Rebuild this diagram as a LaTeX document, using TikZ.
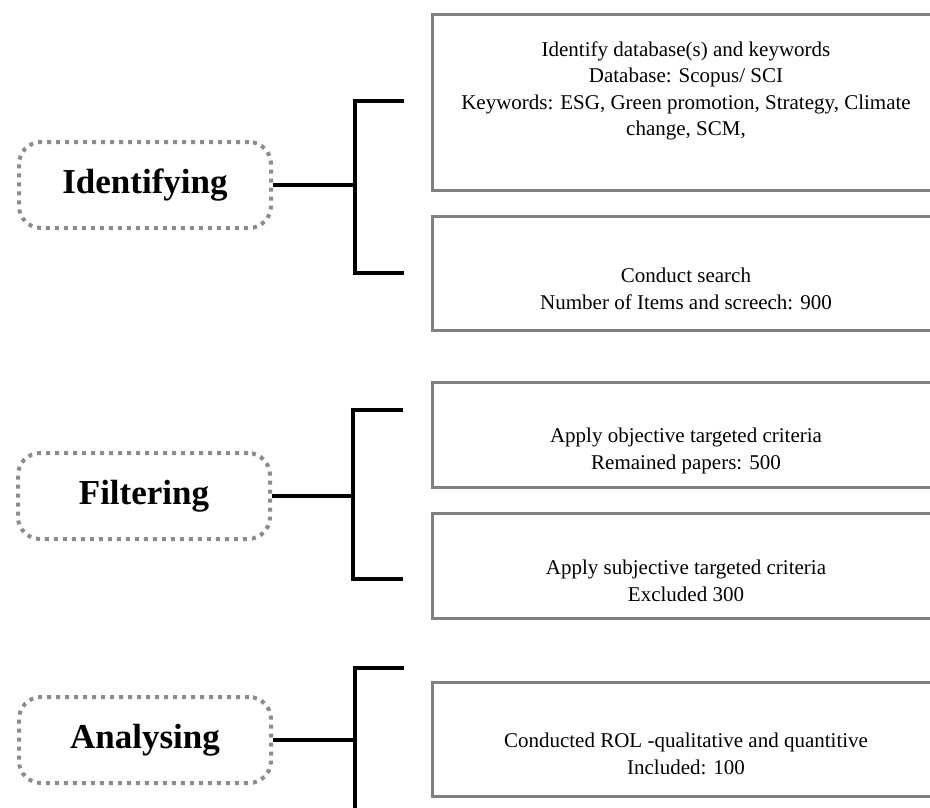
\documentclass[tikz,border=0pt]{standalone}
\usepackage{fontspec}
\setmainfont{Liberation Serif}
\usepackage{tikz}
\usetikzlibrary{positioning}

\tikzset{
  stage/.style={draw=gray!90, line width=4pt, dash pattern=on 4pt off 5pt,
    rounded corners=22pt, minimum width=252pt, minimum height=86pt,
    font=\fontsize{35}{40}\selectfont\bfseries},
  itembox/.style={draw=gray, line width=3pt, minimum width=508pt, inner sep=0pt},
  itemtext/.style={align=center, inner sep=0pt, font=\fontsize{21}{26.5}\selectfont},
  brace/.style={line width=4pt}
}

\begin{document}
\begin{tikzpicture}[x=1pt,y=-1pt]
            \useasboundingbox (0,0) rectangle (930,807);
            % stages
            \node[stage] (ident) at (145,185) {Identifying};
            \node[stage] (filt) at (144,496) {Filtering};
            \node[stage] (anal) at (145,740) {Analysing};
            % boxes
            \node[itembox, minimum height=176pt] (dbbox) at (686,102) {};
            \node[itemtext] (dbtext) at (686,91) {Identify database(s) and keywords\\Database: Scopus/ SCI\\Keywords: ESG, Green promotion, Strategy, Climate\\change, SCM,};
            \node[itembox, minimum height=114pt] (searchbox) at (686,273) {};
            \node[itemtext] (searchtext) at (686,289) {Conduct search\\Number of Items and screech: 900};
            \node[itembox, minimum height=105pt] (objbox) at (686,434.5) {};
            \node[itemtext] (objtext) at (686,451) {Apply objective targeted criteria\\Remained papers: 500};
            \node[itembox, minimum height=105pt] (subjbox) at (686,565.5) {};
            \node[itemtext] (subjtext) at (686,581) {Apply subjective targeted criteria\\Excluded 300};
            \node[itembox, minimum height=114pt] (rolbox) at (686,739) {};
            \node[itemtext] (roltext) at (686,754) {Conducted ROL -qualitative and quantitive\\Included: 100};
            % brackets
            \coordinate (ibt) at (355,101);
            \coordinate (ibb) at (355,273);
            \coordinate (ite) at (404,101);
            \coordinate (ibe) at (404,273);
            \coordinate (fbt) at (353,410);
            \coordinate (fbb) at (353,579);
            \coordinate (fte) at (403,410);
            \coordinate (fbe) at (403,579);
            \coordinate (abt) at (355,668);
            \coordinate (abb) at (355,812);
            \coordinate (ate) at (404,668);
            \coordinate (abe) at (404,812);
            \draw[brace] (ite) -- (ibt) -- (ibb) -- (ibe);
            \draw[brace] (ident) -- (ident -| ibt);
            \draw[brace] (fte) -- (fbt) -- (fbb) -- (fbe);
            \draw[brace] (filt) -- (filt -| fbt);
            \draw[brace] (ate) -- (abt) -- (abb) -- (abe);
            \draw[brace] (anal) -- (anal -| abt);
        \end{tikzpicture}
\end{document}
